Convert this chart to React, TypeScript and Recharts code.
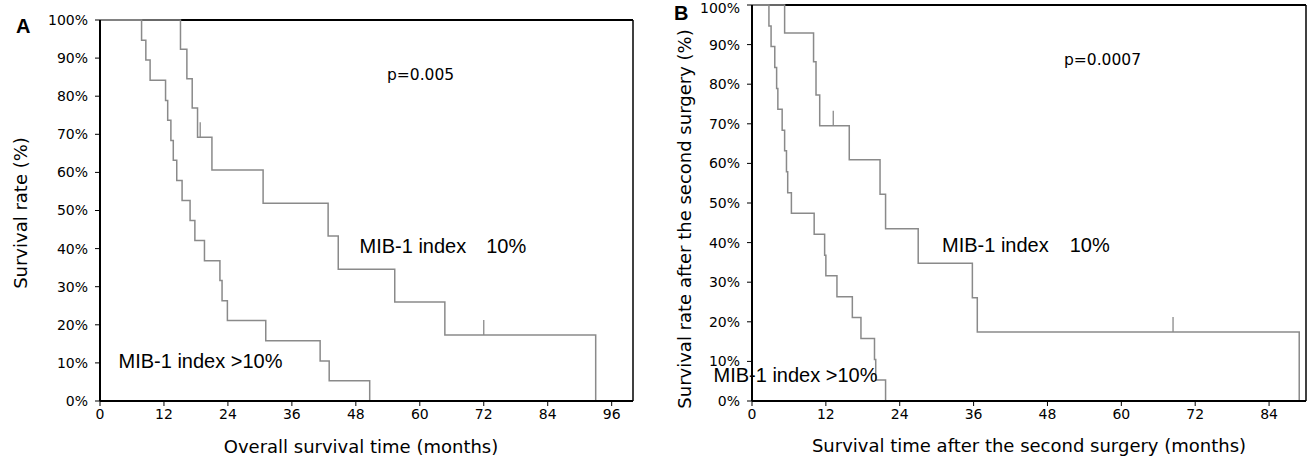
import React from "react";
import { ComposedChart, Line, Scatter, XAxis, YAxis, ReferenceLine } from "recharts";

// ---- Data ----
// Panel A: overall survival
const timeA_low = [0, 15.1, 16.3, 17.3, 18.3, 21, 30.6, 42.8, 44.7, 55.3, 64.7, 93];
const survA_low = [100, 92.3, 84.6, 76.9, 69.2, 60.6, 51.9, 43.3, 34.6, 26.0, 17.3, 0];
const timeA_high = [0, 7.8, 8.6, 9.4, 12.3, 12.7, 13.3, 13.75, 14.4, 15.4, 16.9, 17.8, 19.6, 22.5, 22.9, 23.9, 31.1, 41.3, 43, 50.6];
const survA_high = [100, 94.7, 89.5, 84.2, 78.9, 73.7, 68.4, 63.2, 57.9, 52.6, 47.4, 42.1, 36.8, 31.6, 26.3, 21.1, 15.8, 10.5, 5.3, 0];
const censorTimeA = [18.8, 72];
const censorSurvA = [69.2, 17.3];

// Panel B: survival after second surgery
const timeB_low = [0, 5.3, 10, 10.4, 11, 15.8, 20.8, 21.7, 27, 35.8, 36.6, 88.9];
const survB_low = [100, 92.9, 85.7, 77.3, 69.5, 60.9, 52.2, 43.5, 34.8, 26.1, 17.4, 0];
const timeB_high = [0, 2.75, 3.1, 3.7, 4.0, 4.2, 4.9, 5.3, 5.6, 5.8, 6.4, 10.1, 11.8, 12.0, 13.8, 16.3, 17.7, 19.9, 20.1, 21.7];
const survB_high = [100, 94.7, 89.5, 84.2, 78.9, 73.7, 68.4, 63.2, 57.9, 52.6, 47.4, 42.1, 36.8, 31.6, 26.3, 21.1, 15.8, 10.5, 5.3, 0];
const censorTimeB = [13.2, 68.4];
const censorSurvB = [69.5, 17.4];

const yTicks = [0, 10, 20, 30, 40, 50, 60, 70, 80, 90, 100];
const xTicksA = [0, 12, 24, 36, 48, 60, 72, 84, 96];
const xTicksB = [0, 12, 24, 36, 48, 60, 72, 84];

const zip = (t: number[], s: number[]) => t.map((v, i) => ({ t: v, s: s[i] }));

const TICK_FONT = "'DejaVu Sans', Verdana, sans-serif";
const LABEL_FONT = "'Liberation Sans', Arial, sans-serif";
const CURVE = "#8a8a8a";

const CensorTick = (props: any) => {
  const { cx, cy } = props;
  if (cx == null || cy == null) return null;
  return <line x1={cx} y1={cy} x2={cx} y2={cy - 15} stroke={CURVE} strokeWidth={1.3} />;
};

type PanelProps = {
  width: number;
  margin: { top: number; right: number; left: number; bottom: number };
  xMax: number;
  xTicks: number[];
  low: { t: number; s: number }[];
  high: { t: number; s: number }[];
  censor: { t: number; s: number }[];
};

const Panel = ({ width, margin, xMax, xTicks, low, high, censor }: PanelProps) => (
  <ComposedChart width={width} height={459} margin={margin}>
    <XAxis
      type="number"
      dataKey="t"
      domain={[0, xMax]}
      ticks={xTicks}
      allowDataOverflow
      height={30}
      tickSize={5}
      tickMargin={3}
      tick={{ fill: "#000", fontSize: 14, fontFamily: TICK_FONT }}
      axisLine={{ stroke: "#000", strokeWidth: 2 }}
      tickLine={{ stroke: "#000" }}
    />
    <YAxis
      type="number"
      dataKey="s"
      domain={[0, 100]}
      ticks={yTicks}
      width={60}
      tickSize={5}
      tickMargin={7}
      tickFormatter={(v: number) => `${v}%`}
      tick={{ fill: "#000", fontSize: 14, fontFamily: TICK_FONT }}
      axisLine={{ stroke: "#000", strokeWidth: 2 }}
      tickLine={{ stroke: "#000" }}
    />
    <ReferenceLine y={100} stroke="#000" strokeWidth={2} />
    <ReferenceLine x={xMax} stroke="#000" strokeWidth={1.5} />
    <Line data={low} dataKey="s" type="stepAfter" stroke={CURVE} strokeWidth={1.5} dot={false} isAnimationActive={false} />
    <Line data={high} dataKey="s" type="stepAfter" stroke={CURVE} strokeWidth={1.5} dot={false} isAnimationActive={false} />
    <Scatter data={censor} dataKey="s" shape={CensorTick} isAnimationActive={false} />
  </ComposedChart>
);

export default function App() {
  return (
    <div style={{ position: "absolute", left: 0, top: 0, width: 1316, height: 459, background: "#fff" }}>
      <div style={{ position: "absolute", left: 0, top: 0 }}>
        <Panel
          width={660}
          margin={{ top: 20, right: 27, left: 40, bottom: 28 }}
          xMax={100}
          xTicks={xTicksA}
          low={zip(timeA_low, survA_low)}
          high={zip(timeA_high, survA_high)}
          censor={zip(censorTimeA, censorSurvA)}
        />
      </div>
      <div style={{ position: "absolute", left: 660, top: 0 }}>
        <Panel
          width={656}
          margin={{ top: 5, right: 10, left: 32, bottom: 28 }}
          xMax={90}
          xTicks={xTicksB}
          low={zip(timeB_low, survB_low)}
          high={zip(timeB_high, survB_high)}
          censor={zip(censorTimeB, censorSurvB)}
        />
      </div>
      <svg width={1316} height={459} style={{ position: "absolute", left: 0, top: 0, pointerEvents: "none" }}>
        <text x={16} y={33} fontFamily={LABEL_FONT} fontWeight="bold" fontSize={20} fill="#000">A</text>
        <text x={674} y={19.5} fontFamily={LABEL_FONT} fontWeight="bold" fontSize={20} fill="#000">B</text>

        <text x={26.5} y={213} transform="rotate(-90 26.5 213)" textAnchor="middle" fontFamily={TICK_FONT} fontSize={18} fill="#000">Survival rate (%)</text>
        <text x={361} y={453} textAnchor="middle" fontFamily={TICK_FONT} fontSize={18} fill="#000">Overall survival time (months)</text>
        <text x={691} y={219} transform="rotate(-90 691 219)" textAnchor="middle" fontFamily={TICK_FONT} fontSize={18} fill="#000">Survival rate after the second surgery (%)</text>
        <text x={1029} y={452} textAnchor="middle" fontFamily={TICK_FONT} fontSize={18} fill="#000">Survival time after the second surgery (months)</text>

        <text x={387} y={80} fontFamily={TICK_FONT} fontSize={15.5} fill="#000">p=0.005</text>
        <text x={1064} y={65} fontFamily={TICK_FONT} fontSize={15.5} fill="#000">p=0.0007</text>

        <text x={359.5} y={253.3} fontFamily={LABEL_FONT} fontSize={20} fill="#000">MIB-1 index<tspan dx={20}>10%</tspan></text>
        <text x={118.5} y={368.3} fontFamily={LABEL_FONT} fontSize={20} fill="#000">MIB-1 index &gt;10%</text>
        <text x={942} y={251.7} fontFamily={LABEL_FONT} fontSize={20} fill="#000">MIB-1 index<tspan dx={21}>10%</tspan></text>
        <text x={713.5} y={381.7} fontFamily={LABEL_FONT} fontSize={20} fill="#000">MIB-1 index &gt;10%</text>
      </svg>
    </div>
  );
}
